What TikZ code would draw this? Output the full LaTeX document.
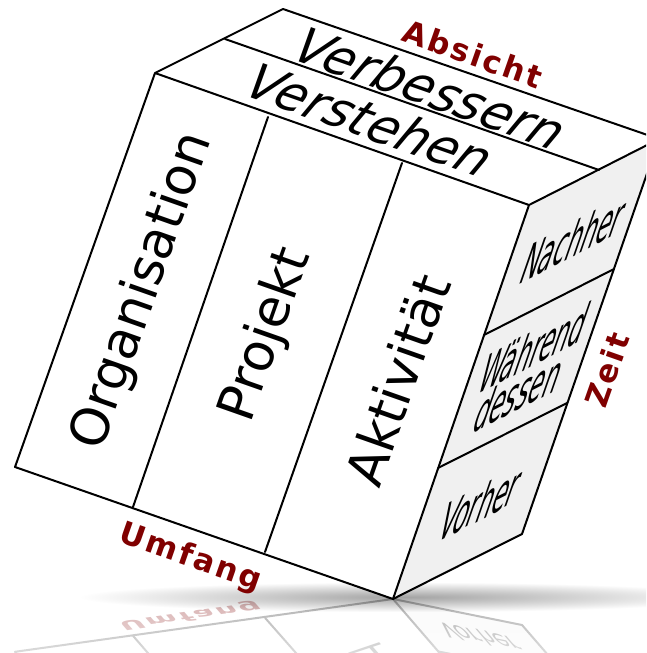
\documentclass[tikz,border=0pt]{standalone}
\usepackage{fontspec}
\setmainfont{DejaVu Sans}
\newfontfamily\lblfont[LetterSpace=8]{DejaVu Sans}
\usetikzlibrary{fadings,calc}
\definecolor{lbl}{RGB}{128,0,0}
\definecolor{sideface}{gray}{0.94}
\tikzfading[name=reflfade, top color=transparent!30, bottom color=transparent!14]
\tikzfading[name=shadowfade, inner color=transparent!64, outer color=transparent!100]
\tikzset{
  edge/.style={line width=2pt, line join=round, line cap=round},
  fronttext/.style={rotate=70.6, font=\fontsize{52}{52}\selectfont},
  toptext/.style={rotate=-19.3, xslant=0.18, font=\fontsize{50}{50}\selectfont\itshape},
  sidetext/.style={cm={0.40,0.205,0.327,0.945,(0,0)}, font=\fontsize{59}{44}\selectfont, align=center},
  dimlabel/.style={text=lbl, font=\fontsize{31}{31}\selectfont\lblfont\bfseries},
}
\newcommand\cubebody[1]{%
  \coordinate (#1A) at (155,73);
  \coordinate (#1B) at (15,467);
  \coordinate (#1C) at (393,599);
  \coordinate (#1D) at (529,205);
  \coordinate (#1P) at (283,9);
  \coordinate (#1Q) at (659,139);
  \coordinate (#1R) at (522,534);
  \coordinate (#1T1) at (225,39);
  \coordinate (#1T2) at (599,170);
  \coordinate (#1F1a) at (268,117);
  \coordinate (#1F1b) at (133,507);
  \coordinate (#1F2a) at (402,163);
  \coordinate (#1F2b) at (265,552);
  \coordinate (#1R1a) at (484,335);
  \coordinate (#1R1b) at (614,269);
  \coordinate (#1R2a) at (438,468);
  \coordinate (#1R2b) at (567,403);
  \fill[white] (#1A) -- (#1B) -- (#1C) -- (#1D) -- cycle;
  \fill[white] (#1A) -- (#1P) -- (#1Q) -- (#1D) -- cycle;
  \fill[sideface] (#1D) -- (#1Q) -- (#1R) -- (#1C) -- cycle;
  \draw[edge] (#1A) -- (#1B) -- (#1C) -- (#1D) -- cycle;
  \draw[edge] (#1A) -- (#1P) -- (#1Q) -- (#1D);
  \draw[edge] (#1Q) -- (#1R) -- (#1C);
  \draw[edge] (#1T1) -- (#1T2);
  \draw[edge] (#1F1a) -- (#1F1b);
  \draw[edge] (#1F2a) -- (#1F2b);
  \draw[edge] (#1R1a) -- (#1R1b);
  \draw[edge] (#1R2a) -- (#1R2b);
  \node[fronttext] (#1org) at (142.75,291) {Organisation};
  \node[fronttext] (#1proj) at (267,334.75) {Projekt};
  \node[fronttext] (#1akt) at (397.25,379.75) {Aktivität};
  \node[toptext] (#1verst) at (370,120) {Verstehen};
  \node[toptext] (#1verb) at (431,88) {Verbessern};
  \node[sidetext] (#1nach) at (574,239) {Nachher};
  \node[sidetext] (#1waehr) at (527,370) {Während\\dessen};
  \node[sidetext] (#1vor) at (481,503) {Vorher};
  \node[dimlabel, rotate=-19.3] (#1absicht) at (473,54) {Absicht};
  \node[dimlabel, rotate=-19.3] (#1umfang) at (190,558) {Umfang};
  \node[dimlabel, rotate=70.6] (#1zeit) at (607,370) {Zeit};
}
\begin{document}
\begin{tikzpicture}[x=1pt, y=-1pt]
  \useasboundingbox (0,0) rectangle (646,653);
  \clip (0,0) rectangle (646,653);
  \fill[white] (0,0) rectangle (646,653);
  % reflection on the floor
  \begin{scope}[shift={(0,599)}, yscale=-0.4, shift={(0,-599)}, transform shape]
    \cubebody{r}
  \end{scope}
  \fill[white, path fading=reflfade] (0,599) rectangle (646,653);
  % shadow
  \fill[black, path fading=shadowfade] (80,582) rectangle (730,612);
  % cube
  \cubebody{}
\end{tikzpicture}
\end{document}
